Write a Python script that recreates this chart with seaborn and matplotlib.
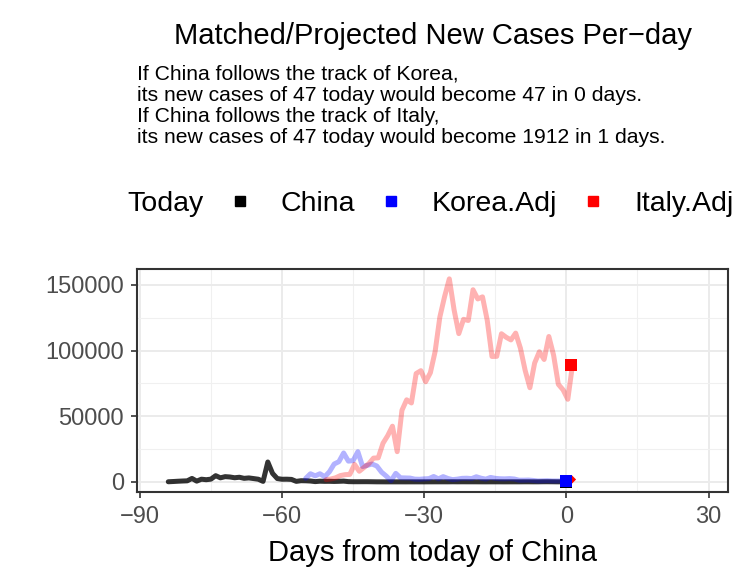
import numpy as np
import pandas as pd
import seaborn as sns
import matplotlib.pyplot as plt

from matplotlib.lines  import Line2D
from matplotlib.ticker import MultipleLocator

# new cases per day
# China: Jan 23 .. today (day 0)
china_days = list(range(-84, 1))
china_new = [95, 277, 486, 669, 802, 2632, 578, 2054, 1661,
             2089, 4739, 3086, 3991, 3733, 3147, 3523, 2704, 3015, 2525,
             2032, 373, 15136, 6463, 2538, 2007, 2052, 1890, 397, 891,
             826, 648, 214, 508, 406, 433, 327, 427, 573,
             202, 125, 119, 139, 143, 99, 44, 40, 19, 24,
             15, 20, 11, 20, 16, 21, 13, 34, 39, 41,
             46, 39, 78, 47, 67, 55, 54, 45, 31, 21, 36,
             35, 31, 19, 30, 39, 32, 62, 63, 42, 46,
             99, 108, 89, 46, 36, 47]

# Korea, scaled to China's population and shifted onto China's timeline
korea_days = list(range(-55, 1))
korea_adj = [2700, 6200, 4600, 6200, 3900, 7700, 13600, 15400, 22000,
             15800, 16200, 23000, 11700, 12600, 13600, 12100, 7400, 4400, 900,
             6500, 3100, 3000, 2900, 2100, 2000, 2300, 2500, 4100, 2300,
             4000, 2600, 1700, 2100, 2700, 2800, 2500, 3900, 2800, 2100,
             3400, 2700, 2400, 2300, 2500, 2200, 1300, 1300, 1400, 1100,
             700, 800, 900, 700, 700, 700, 600]

# Italy, scaled and shifted the same way
italy_days = [d + 0.3 for d in range(-51, 2)]
italy_adj = [1700, 2200, 3100, 4800, 5500, 5700,
             13300, 8100, 11000, 13800, 18100, 18300, 29400, 35200, 42400,
             23000, 54500, 62500, 60100, 82500, 84700, 76200, 83100, 99200,
             125500, 141100, 154600, 131100, 112900, 123800, 122900, 146300,
             139300, 140900, 123000, 95500, 95600,
             112800, 110100, 108100, 113300, 101800, 84900, 71700, 90500,
             99100, 93200, 110700, 96500, 74300, 70100, 62900, 89300]

# today points
today_names  = ['China', 'Korea.Adj', 'Italy.Adj']
today_days   = [0, 0, 1]
today_values = [47, 600, 89000]
proj_names  = ['Korea.Adj', 'Italy.Adj']
proj_days   = [0, 1]
proj_values = [47, 1912]

line_colors = {'China': 'black', 'Korea.Adj': 'blue', 'Italy.Adj': 'red'}
line_alpha = {'China': 0.8, 'Korea.Adj': 0.3, 'Italy.Adj': 0.3}

lines = pd.concat([
    pd.DataFrame({'day': china_days, 'cases': china_new, 'country': 'China'}),
    pd.DataFrame({'day': korea_days, 'cases': korea_adj, 'country': 'Korea.Adj'}),
    pd.DataFrame({'day': italy_days, 'cases': italy_adj, 'country': 'Italy.Adj'}),
])
today = pd.DataFrame({'day': today_days, 'cases': today_values, 'country': today_names})
proj = pd.DataFrame({'day': proj_days, 'cases': proj_values, 'country': proj_names})

sns.set_theme(style='white')
plt.rcParams['font.family'] = ['Liberation Sans', 'DejaVu Sans']
plt.rcParams['text.color'] = 'black'
plt.rcParams['axes.labelcolor'] = 'black'

fig = plt.figure(figsize=(7.53, 5.69), dpi=100)
ax = fig.add_axes([137/753, 1 - 492/569, 591/753, 223/569])

for name, grp in lines.groupby('country', sort=False):
    sns.lineplot(data=grp, x='day', y='cases', color=line_colors[name],
                 alpha=line_alpha[name], lw=3.6, ax=ax, legend=False)

# projected points first, today squares on top
sns.scatterplot(data=proj[proj['country'] == 'Italy.Adj'], x='day', y='cases',
                color='red', marker='D', s=22, linewidth=0, ax=ax, legend=False)
sns.scatterplot(data=today, x='day', y='cases', hue='country',
                palette=line_colors, marker='s', s=75, linewidth=0,
                ax=ax, legend=False, zorder=5)

ax.set_xlim(-90.6, 34.1)
ax.set_ylim(-7700, 162100)
ax.xaxis.set_major_locator(MultipleLocator(30))
ax.xaxis.set_minor_locator(MultipleLocator(15))
ax.yaxis.set_major_locator(MultipleLocator(50000))
ax.yaxis.set_minor_locator(MultipleLocator(25000))
ax.grid(which='major', color='#EBEBEB', lw=1.4)
ax.grid(which='minor', color='#F0F0F0', lw=0.8)
ax.set_axisbelow(True)
for sp in ax.spines.values():
    sp.set_color('#333333')
    sp.set_linewidth(1.5)
ax.tick_params(which='major', direction='out', length=4, width=1.2,
               color='#333333', labelsize=17, labelcolor='#4D4D4D',
               bottom=True, left=True)
ax.tick_params(axis='x', pad=6.2)
ax.tick_params(axis='y', pad=5.5)
ax.tick_params(which='minor', length=0)
ax.set_xlabel('Days from today of China', fontsize=21, labelpad=8)
ax.set_ylabel('')

fig.text(432.5/753, 1 - 44/569, 'Matched/Projected New Cases Per\u2212day',
         ha='center', va='baseline', fontsize=21)
fig.text(137/753, 1 - 65/569,
         'If China follows the track of Korea,\n'
         'its new cases of 47 today would become 47 in 0 days.\n'
         'If China follows the track of Italy,\n'
         'its new cases of 47 today would become 1912 in 1 days.',
         ha='left', va='top', fontsize=15.2, linespacing=1.13)

handles = [Line2D([], [], linestyle='none', label='Today')]
for name in today_names:
    handles.append(Line2D([], [], linestyle='none', marker='s', markersize=7.5,
                          color=line_colors[name], label=name))
fig.legend(handles=handles, ncol=4, loc='center left',
           bbox_to_anchor=(61/753, 1 - 204/569), frameon=False, fontsize=20.5,
           handlelength=1.0, handletextpad=0.94, columnspacing=0.76,
           borderaxespad=0, borderpad=0.4)

fig.savefig('out.png', dpi=100)
